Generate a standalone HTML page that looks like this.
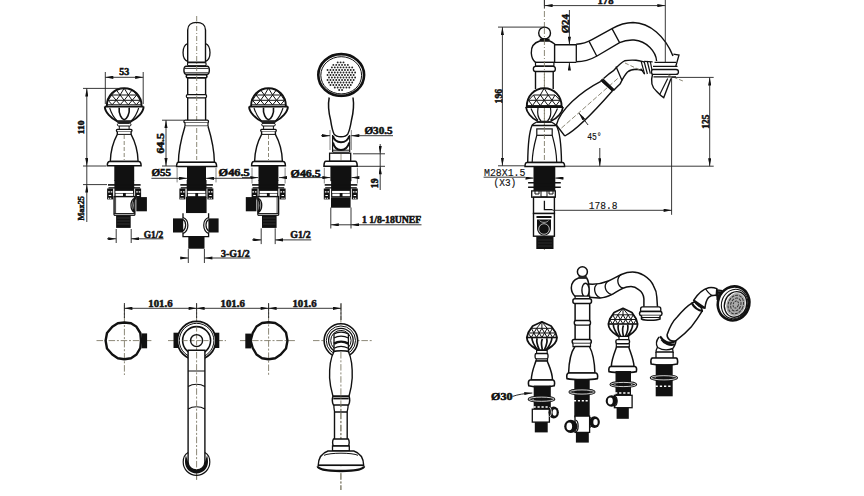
<!DOCTYPE html>
<html><head><meta charset="utf-8">
<style>
html,body{margin:0;padding:0;background:#fff;width:864px;height:496px;overflow:hidden}
svg{display:block}
text{font-family:"Liberation Serif",serif;font-weight:bold;fill:#111;stroke:#111;stroke-width:0.5}
.t2{font-family:"Liberation Mono",monospace;font-weight:normal;stroke:#111;stroke-width:0.15}
</style></head><body>
<svg width="864" height="496" viewBox="0 0 864 496">
<defs>
  <pattern id="dots" x="0.3" y="0.5" width="2.7" height="2.7" patternUnits="userSpaceOnUse"><circle cx="1.35" cy="1.35" r="0.75" fill="#444"/></pattern>
  <marker id="ar" viewBox="0 0 10 4" refX="10" refY="2" markerWidth="8.5" markerHeight="3.2" markerUnits="userSpaceOnUse" orient="auto-start-reverse"><path d="M0,0 L10,2 L0,4 z" fill="#111"/></marker>
  <!-- front view valve (outlet on right), x relative to center -->
  <g id="knob3">
    <path d="M0,0 L9.2,4.2 L13.5,10.5 L15.1,15.7 C15,19 13,23 6.5,26.8 L3.8,28.3 H-3.8 L-6.5,26.8 C-13,23 -15,19 -15.1,15.7 L-13.5,10.5 L-9.2,4.2 Z" fill="#fff" stroke="#111" stroke-width="1.8" stroke-linejoin="round"/>
    <path d="M-10.5,6.5 H10.5 M-13.8,11.2 H13.8 M0,0 L-5.3,6.5 M0,0 L5.3,6.5 M0,0 V6.5 M-10.5,6.5 L-13.8,11.2 M-10.5,6.5 L-8,11.2 M-5.3,6.5 L-8,11.2 M-5.3,6.5 L-2.7,11.2 M0,6.5 L-2.7,11.2 M0,6.5 L2.7,11.2 M5.3,6.5 L2.7,11.2 M5.3,6.5 L8,11.2 M10.5,6.5 L8,11.2 M10.5,6.5 L13.8,11.2 M-13.8,11.2 L-10.7,15.7 M-8,11.2 L-10.7,15.7 M-8,11.2 L-5.4,15.7 M-2.7,11.2 L-5.4,15.7 M-2.7,11.2 L0,15.7 M2.7,11.2 L0,15.7 M2.7,11.2 L5.4,15.7 M8,11.2 L5.4,15.7 M8,11.2 L10.7,15.7 M13.8,11.2 L10.7,15.7" fill="none" stroke="#111" stroke-width="1"/>
    <path d="M-15,15.7 H15" stroke="#111" stroke-width="1.6"/>
    <path d="M-10,16 C-10,20 -7.5,24 -4.5,28 M-4.8,16.5 C-6,21 -4,25 -2.5,28 M0.5,17 C-1.5,21 0,25 0.5,28 M4.8,16.5 C6,21 4,25 2.5,28 M10,16 C10,20 7.5,24 4.5,28" fill="none" stroke="#111" stroke-width="1.7"/>
  </g>
  <g id="nutF">
    <rect x="-9.8" y="180" width="19.8" height="17.5" fill="#111"/>
    <rect x="-16.2" y="184.1" width="32.6" height="1.6" fill="#111"/>
    <rect x="-15.7" y="187.2" width="31.6" height="1.3" fill="#111"/>
    <rect x="-8.8" y="190.9" width="17.6" height="2.1" fill="#fff"/>
    <rect x="-8.6" y="193.6" width="7.4" height="2.6" fill="#fff"/>
    <rect x="1.6" y="193.6" width="7.4" height="2.6" fill="#fff"/>
    <rect x="-17.1" y="188.5" width="6" height="10.9" fill="#111"/>
    <rect x="10.9" y="188.5" width="6" height="10.9" fill="#111"/>
    <path d="M-16,191.9 h1.6 M-13.5,191.9 h1.6 M-15.5,195.5 h2.5 M-16.2,198.2 h1.3 M-14.2,198.2 h1.3 M12,191.9 h1.6 M14.5,191.9 h1.6 M12.7,195.5 h2.5 M12.1,198.2 h1.3 M14.1,198.2 h1.3" stroke="#fff" stroke-width="1.1"/>
  </g>
  <g id="valveF">
    <!-- dome -->
    <path d="M-17.4,106 C-17.4,95.5 -9.6,88.2 0,88.2 C9.6,88.2 17.4,95.5 17.4,106" fill="#fff" stroke="#111" stroke-width="1.9"/>
    <path d="M-12.5,95 H12.5 M-16,100.3 H16 M-17.3,104.8 H17.3 M0,88.2 L-4.1,95 M0,88.2 L4.1,95 M-12.5,95 L-16,100.3 M-12.5,95 L-8,100.3 M-4.1,95 L-8,100.3 M-4.1,95 L0,100.3 M4.1,95 L0,100.3 M4.1,95 L8,100.3 M12.5,95 L8,100.3 M12.5,95 L16,100.3 M-16,100.3 L-12.1,104.8 M-8,100.3 L-12.1,104.8 M-8,100.3 L-4.1,104.8 M0,100.3 L-4.1,104.8 M0,100.3 L4.1,104.8 M8,100.3 L4.1,104.8 M8,100.3 L12.1,104.8 M16,100.3 L12.1,104.8 M-8,89.8 L-12.5,95 M8,89.8 L12.5,95 M-8,89.8 L-4.1,95 M8,89.8 L4.1,95" fill="none" stroke="#111" stroke-width="1"/>
    <!-- rim & cup -->
    <path d="M-19.4,106.6 H19.4" stroke="#111" stroke-width="1.6"/>
    <path d="M-19.4,106.4 C-19.4,112 -13,118.5 -7.2,121.2 H7.2 C13,118.5 19.4,112 19.4,106.4" fill="none" stroke="#111" stroke-width="1.9"/>
    <path d="M-14.5,108 C-13,113 -10,118 -7,121 M14.5,108 C13,113 10,118 7,121" fill="none" stroke="#111" stroke-width="1.1"/>
    <path d="M-5,107.6 C-5.8,114 -2.5,119.3 0,119.8 C2.5,119.3 5.8,114 5,107.6" fill="none" stroke="#111" stroke-width="1.6"/>
    <rect x="-6.9" y="121" width="13.8" height="2" fill="#222"/>
    <rect x="-6.8" y="123.4" width="13.6" height="2.6" rx="1.3" fill="#fff" stroke="#111" stroke-width="1"/>
    <path d="M-4.9,126 V129.4 M4.9,126 V129.4" stroke="#111" stroke-width="1"/>
    <rect x="-7.8" y="129.4" width="15.6" height="2.2" rx="1" fill="#fff" stroke="#111" stroke-width="1.3"/>
    <!-- bell -->
    <path d="M-6.9,131.6 V134.4 C-10.5,141 -13.6,150 -13.9,161.4 H13.9 C13.6,150 10.5,141 6.9,134.4 V131.6" fill="#fff" stroke="#111" stroke-width="1.4"/>
    <path d="M-6.9,134.4 H6.9" stroke="#111" stroke-width="1"/>
    <path d="M0,135 V160" stroke="#7f7a68" stroke-width="0.9" stroke-dasharray="4,2"/>
    <path d="M-14.5,161.5 H14.5 C16,161.5 16.9,163 16.9,165.8 H-16.9 C-16.9,163 -16,161.5 -14.5,161.5 Z" fill="#fff" stroke="#111" stroke-width="1.5"/>
    <!-- thread -->
    <rect x="-9.9" y="165.8" width="19.9" height="15" fill="#111"/>
    <use href="#nutF"/>
    <!-- body -->
    <rect x="-10.1" y="196.6" width="20.7" height="17.2" fill="#fff" stroke="#111" stroke-width="1.4"/>
    <path d="M-8.6,197 V213.5" stroke="#111" stroke-width="0.8"/>
    <path d="M10.6,198 C5.5,200.5 5.5,210 10.6,212.8 M10.6,199 C8,201.5 8,209.5 10.6,212" fill="none" stroke="#111" stroke-width="1.3"/>
    <rect x="12.1" y="197.1" width="10.6" height="14.2" fill="#111"/>
    <path d="M-10.1,213.8 h20.7 v1.6 h-20.7 z" fill="#fff" stroke="#111" stroke-width="1"/>
    <rect x="-8.1" y="215.4" width="14.6" height="12.5" fill="#111"/>
    <path d="M-7,218 H5.5 M-7,221 H5.5 M-7,224 H5.5" stroke="#555" stroke-width="0.5"/>
  </g>
</defs>

<use href="#valveF" transform="translate(124.2,0)"/>
<use href="#valveF" transform="translate(268.5,0) scale(-1,1)"/>


<!-- ===== center front spout ===== -->
<g id="spoutF">
  <path d="M187.7,43.5 C181.5,46 181.5,59 187.7,61.4 M205.5,43.5 C211.5,46 211.5,59 205.5,61.4" fill="none" stroke="#111" stroke-width="1.3"/>
  <path d="M187.7,62.2 V30 C187.7,25 191.5,22.4 196.6,22.4 C201.7,22.4 205.5,25 205.5,30 V62.2 Z" fill="#fff" stroke="#111" stroke-width="1.4"/>
  <rect x="187.5" y="62.6" width="18.6" height="3.1" rx="1.2" fill="#fff" stroke="#111" stroke-width="1.1"/>
  <path d="M186,66.2 H207.4 C210,67 210,73.6 207.4,74.4 H186 C183.2,73.6 183.2,67 186,66.2 Z" fill="#fff" stroke="#111" stroke-width="1.4"/>
  <path d="M185,68.4 H208.5 M185,72.8 H208.5" stroke="#111" stroke-width="0.9"/>
  <rect x="186.3" y="74.8" width="20.6" height="3.1" rx="1.3" fill="#fff" stroke="#111" stroke-width="1.6"/>
  <path d="M187.7,78 V120.2 M205.6,78 V120.2" stroke="#111" stroke-width="1.4"/>
  <rect x="186.3" y="94.6" width="20.3" height="3.2" rx="1.5" fill="#fff" stroke="#111" stroke-width="1.2"/>
  <path d="M196.7,16 V166" stroke="#7f7a68" stroke-width="0.9" stroke-dasharray="5,2,1,2"/>
  <rect x="183.9" y="120.2" width="24.6" height="2.4" rx="1.2" fill="#fff" stroke="#111" stroke-width="1.3"/>
  <path d="M185,122.6 V126.2 H208 V122.6" fill="#fff" stroke="#111" stroke-width="1.2"/>
  <path d="M185,126.2 C182,136 178.5,150 178.4,162.5 H214.4 C214.3,150 211,136 208,126.2" fill="#fff" stroke="#111" stroke-width="1.4"/>
  <path d="M196.7,128 V160" stroke="#7f7a68" stroke-width="0.9" stroke-dasharray="5,2"/>
  <path d="M178.5,162.2 H214.5 C216,162.2 216.6,164 216.6,166.6 H176.6 C176.6,164 177.3,162.2 178.5,162.2 Z" fill="#fff" stroke="#111" stroke-width="1.5"/>
  <rect x="187" y="166.5" width="19" height="15" fill="#111"/>
  <use href="#nutF" transform="translate(196.5,0)"/>
  <rect x="186" y="196.8" width="20.6" height="16.5" fill="#111"/>
  <rect x="183" y="213.2" width="25.6" height="23.4" fill="#fff"/><path d="M183,213.2 V218.4 M183,232.5 V236.6 H208.6 V232.5 M208.6,218.4 V213.2" fill="none" stroke="#111" stroke-width="1.3"/>
  <path d="M183,217.5 C189.5,220 189.5,230 183,233.5 M183,219.5 C186.5,221.5 186.5,228.5 183,231 M208.6,217.5 C202.1,220 202.1,230 208.6,233.5 M208.6,219.5 C205.1,221.5 205.1,228.5 208.6,231" fill="none" stroke="#111" stroke-width="1.2"/>
  <rect x="173" y="218.4" width="10.2" height="14.1" fill="#111"/>
  <rect x="208.4" y="218.4" width="10.2" height="14.1" fill="#111"/>
  <rect x="188.3" y="236.5" width="16.2" height="12.2" fill="#111"/>
</g>

<!-- ===== handshower front ===== -->
<g id="hsF">
  <ellipse cx="341.2" cy="75" rx="22.9" ry="20.9" fill="#fff" stroke="#111" stroke-width="2.6"/>
  <ellipse cx="341.2" cy="75.3" rx="20.4" ry="18.6" fill="none" stroke="#111" stroke-width="1"/>
  <path d="M337.70,62.40h0.01M340.60,62.40h0.01M343.50,62.40h0.01M333.35,64.91h0.01M336.25,64.91h0.01M339.15,64.91h0.01M342.05,64.91h0.01M344.95,64.91h0.01M347.85,64.91h0.01M331.90,67.42h0.01M334.80,67.42h0.01M337.70,67.42h0.01M340.60,67.42h0.01M343.50,67.42h0.01M346.40,67.42h0.01M349.30,67.42h0.01M352.20,67.42h0.01M327.55,69.93h0.01M330.45,69.93h0.01M333.35,69.93h0.01M336.25,69.93h0.01M339.15,69.93h0.01M342.05,69.93h0.01M344.95,69.93h0.01M347.85,69.93h0.01M350.75,69.93h0.01M353.65,69.93h0.01M329.00,72.45h0.01M331.90,72.45h0.01M334.80,72.45h0.01M337.70,72.45h0.01M340.60,72.45h0.01M343.50,72.45h0.01M346.40,72.45h0.01M349.30,72.45h0.01M352.20,72.45h0.01M355.10,72.45h0.01M327.55,74.96h0.01M330.45,74.96h0.01M333.35,74.96h0.01M336.25,74.96h0.01M339.15,74.96h0.01M342.05,74.96h0.01M344.95,74.96h0.01M347.85,74.96h0.01M350.75,74.96h0.01M353.65,74.96h0.01M329.00,77.47h0.01M331.90,77.47h0.01M334.80,77.47h0.01M337.70,77.47h0.01M340.60,77.47h0.01M343.50,77.47h0.01M346.40,77.47h0.01M349.30,77.47h0.01M352.20,77.47h0.01M355.10,77.47h0.01M327.55,79.98h0.01M330.45,79.98h0.01M333.35,79.98h0.01M336.25,79.98h0.01M339.15,79.98h0.01M342.05,79.98h0.01M344.95,79.98h0.01M347.85,79.98h0.01M350.75,79.98h0.01M353.65,79.98h0.01M329.00,82.49h0.01M331.90,82.49h0.01M334.80,82.49h0.01M337.70,82.49h0.01M340.60,82.49h0.01M343.50,82.49h0.01M346.40,82.49h0.01M349.30,82.49h0.01M352.20,82.49h0.01M330.45,85.00h0.01M333.35,85.00h0.01M336.25,85.00h0.01M339.15,85.00h0.01M342.05,85.00h0.01M344.95,85.00h0.01M347.85,85.00h0.01M350.75,85.00h0.01M334.80,87.51h0.01M337.70,87.51h0.01M340.60,87.51h0.01M343.50,87.51h0.01M346.40,87.51h0.01M349.30,87.51h0.01M339.15,90.03h0.01M342.05,90.03h0.01" stroke="#222" stroke-width="1.9" stroke-linecap="round"/>
  <path d="M329.2,97.5 C328,104 328.5,112 330.6,120 C331.5,126 332.5,131 334.1,134.1 C335.5,136 338,136.8 341,136.8 C344,136.8 346.5,136 347.7,134.1 C349.5,131 350.5,126 351.5,120 C353.5,112 354,104 353,97.5" fill="#fff" stroke="#111" stroke-width="1.5"/>
  <path d="M332.6,135 V152 M349.7,135 V152" stroke="#111" stroke-width="1.2"/>
  <path d="M333,136 C334,140 337,142.2 341,142.2 C345,142.2 348,140 349.3,136" fill="none" stroke="#111" stroke-width="2"/>
  <path d="M333,142.5 C334,147 337,150 341,150 C345,150 348,147 349.3,142.5" fill="none" stroke="#111" stroke-width="2"/>
  <path d="M332.6,150.2 H349.7 M332.6,152.2 H349.7" stroke="#111" stroke-width="1"/>
  <rect x="329.6" y="153.2" width="21.1" height="8.1" fill="#fff" stroke="#111" stroke-width="1.3"/>
  <path d="M341,154 V160.5" stroke="#7f7a68" stroke-width="0.8"/>
  <path d="M326,161.3 H355 C356.5,161.3 357.2,163 357.2,166.2 H324 C324,163 324.6,161.3 326,161.3 Z" fill="#fff" stroke="#111" stroke-width="1.6"/>
  <rect x="330.4" y="166.2" width="21" height="15" fill="#111"/>
  <use href="#nutF" transform="translate(340.9,0)"/>
  <rect x="331" y="197.4" width="19.6" height="10.3" fill="#111"/>
</g>

<!-- ===== front view dims ===== -->
<g stroke="#222" stroke-width="0.9" fill="none">
  <!-- 53 -->
  <path d="M105.3,72 V104 M143.2,72 V104"/>
  <path d="M105.3,77.3 H143.2" marker-start="url(#ar)" marker-end="url(#ar)"/>
  <!-- 110 -->
  <path d="M83,88.4 H123 M83,166 H106"/>
  <path d="M86.8,88.4 V166" marker-start="url(#ar)" marker-end="url(#ar)"/>
  <!-- Max25 -->
  <path d="M83,184.6 H107"/>
  <path d="M86.8,222 V184.6" marker-end="url(#ar)"/>
  <path d="M86.8,166 V184.6"/>
  <!-- G1/2 left -->
  <path d="M116.2,229 V243 M131.2,229 V243"/>
  <path d="M107,238.8 H116.2" marker-end="url(#ar)"/>
  <path d="M163.5,238.8 H131.2" marker-end="url(#ar)"/>
  <!-- 64.5 -->
  <path d="M162,120.2 H184 M162,166 H177"/>
  <path d="M166,120.2 V166" marker-start="url(#ar)" marker-end="url(#ar)"/>
  <!-- O55 / O46.5 -->
  <path d="M177.1,167.7 V182.4 M216,167.7 V182.4" stroke="#777"/>
  <path d="M151.4,178.3 H187" marker-end="url(#ar)"/>
  <path d="M250,178.3 H206" marker-end="url(#ar)"/>
  <!-- 3-G1/2 -->
  <path d="M188.3,249 V263 M204.4,249 V263"/>
  <path d="M180,258 H188.3" marker-end="url(#ar)"/>
  <path d="M250.6,258 H204.4" marker-end="url(#ar)"/>
  <!-- right valve O46.5 -->
  <path d="M252,167.7 V183.5 M285.1,167.7 V183.5 M324.3,167.7 V183.5 M357.4,167.7 V183.5" stroke="#777"/>
  <path d="M242,177.6 H258.3" marker-end="url(#ar)"/>
  <path d="M286,177.6 H279" marker-end="url(#ar)"/>
  <path d="M291.9,177.6 H330.4" marker-end="url(#ar)"/>
  <path d="M358,177.6 H351.4" marker-end="url(#ar)"/>
  <!-- G1/2 right -->
  <path d="M261.2,228.3 V244.1 M275.2,228.3 V244.1"/>
  <path d="M252,239.9 H261.2" marker-end="url(#ar)"/>
  <path d="M311.3,239.9 H275.2" marker-end="url(#ar)"/>
  <!-- O30.5 -->
  <path d="M330,130 V150 M351.3,130 V150" stroke="#777"/>
  <path d="M321,135.7 H330" marker-end="url(#ar)"/>
  <path d="M393,135.7 H351.3" marker-end="url(#ar)"/>
  <!-- 19 -->
  <path d="M353,153.8 H385 M358,166.3 H385"/>
  <path d="M380.2,144 V153.8" marker-end="url(#ar)"/>
  <path d="M380.2,190 V166.3" marker-end="url(#ar)"/>
  <path d="M380.2,153.8 V166.3"/>
  <!-- 1 1/8-18UNEF -->
  <path d="M330.8,207.5 V228.5 M351,207.5 V228.5"/>
  <path d="M421.5,224.8 H351" marker-start="none" marker-end="url(#ar)"/>
  <path d="M330.8,224.8 H351" marker-start="url(#ar)"/>
</g>
<g>
  <text x="119.3" y="75.4" font-size="9.5" textLength="10" lengthAdjust="spacingAndGlyphs">53</text>
  <text transform="translate(84.2,134.2) rotate(-90)" font-size="9" textLength="13.7" lengthAdjust="spacingAndGlyphs">110</text>
  <text transform="translate(84.2,220.5) rotate(-90)" font-size="8.5" textLength="24.5" lengthAdjust="spacingAndGlyphs">Max25</text>
  <text x="143.8" y="238.2" font-size="9.5" textLength="19.3" lengthAdjust="spacingAndGlyphs">G1/2</text>
  <text transform="translate(164.3,153.6) rotate(-90)" font-size="9.5" textLength="20.5" lengthAdjust="spacingAndGlyphs">64.5</text>
  <text x="151.4" y="176.4" font-size="10" textLength="19.8" lengthAdjust="spacingAndGlyphs">&#216;55</text>
  <text x="218.6" y="176.4" font-size="10" textLength="31.2" lengthAdjust="spacingAndGlyphs">&#216;46.5</text>
  <text x="290.6" y="176.6" font-size="10" textLength="30.2" lengthAdjust="spacingAndGlyphs">&#216;46.5</text>
  <text x="221.1" y="256.9" font-size="9.5" textLength="28.6" lengthAdjust="spacingAndGlyphs">3-G1/2</text>
  <text x="290.3" y="238.4" font-size="9.5" textLength="20.3" lengthAdjust="spacingAndGlyphs">G1/2</text>
  <text x="364.4" y="133.8" font-size="10" textLength="28.3" lengthAdjust="spacingAndGlyphs">&#216;30.5</text>
  <text transform="translate(377.8,188.2) rotate(-90)" font-size="9.5" textLength="9.8" lengthAdjust="spacingAndGlyphs">19</text>
  <text x="362" y="223.3" font-size="9.5" textLength="59.3" lengthAdjust="spacingAndGlyphs">1 1/8-18UNEF</text>
</g>

<!-- ===== side view ===== -->
<g id="sideV">
  <!-- centerline -->
  <path d="M544.4,0 V250" stroke="#7f7a68" stroke-width="0.9" stroke-dasharray="6,2,1,2"/>
  <!-- handshower hose/handle behind -->
  <path d="M617.7,78.5 L558.5,130.7" stroke="#7f7a68" stroke-width="0.9" stroke-dasharray="5,2"/>
  <path d="M556.4,125 C560,110 580,92 600.8,81.3 M603.6,78.5 C607,75.5 610,73 613.5,70.7 C617,67 620,63 624.6,60.8 C628,60 632,60 636,60.2 C639,60.5 642,61.4 644.4,62" fill="none" stroke="#111" stroke-width="1.4"/>
  <path d="M564.8,136 C580,128 600,105 612.1,91.2 M613.5,90.5 C615.5,88.5 617.5,86.5 620,84.1 C622,80 624.5,75 627.5,72 C630,70 633,69.3 636,69.3 C639,69.5 641,70 643,70.7" fill="none" stroke="#111" stroke-width="1.4"/>
  <path d="M556.4,125 L564.8,136 M600.8,80.3 L612.8,91.2 M602.6,78.6 L614.3,89.9 M616,66.5 L622,80.5" stroke="#111" stroke-width="1.3"/>
  <path d="M601.2,79.6 L613.6,90.6" stroke="#111" stroke-width="2.6"/>
  <path d="M588.1,125 L578.9,113" stroke="#111" stroke-width="0.9" marker-end="url(#ar)"/>
  <!-- spout -->
  <path d="M576.2,44.2 C583,43.8 587,42.5 592,39.6 L612,28.6 C620,24 626,22.5 633,22.5 C650,23 665,36 673,56" fill="none" stroke="#111" stroke-width="1.4"/>
  <path d="M576.2,61.8 C585,61.8 590,60 597,56 L619.6,42.6 C625,40 630,39.8 634,40 C647,41 656,52 656.6,61" fill="none" stroke="#111" stroke-width="1.4"/>
  <path d="M589.1,41.4 L596.7,56 M612,28.6 L619.6,42.6 M576.3,44.4 V61.7" stroke="#111" stroke-width="1.3"/>
  <!-- handshower head / outlet -->
  <path d="M641.1,61.2 L644.6,74.2 M644,61 L647.4,74 M647.2,61 L650.3,73.6 M650.3,61.5 L652.6,73.2" stroke="#111" stroke-width="1.2"/>
  <path d="M644.4,61.4 L652.6,61.8 M640.7,68.6 L644.6,74.2" stroke="#111" stroke-width="1.2"/>
  <path d="M654.5,62.3 H676 M653,66.3 H677.5 M653.5,76.8 H676" stroke="#111" stroke-width="1.3"/>
  <path d="M653,69.5 H676 C679.3,69.5 679.3,74.4 676,74.4 H653 C651,74.4 651,69.5 653,69.5 Z" fill="#fff" stroke="#111" stroke-width="1.3"/>
  <path d="M652.6,74 C650.8,80 651.5,87 656.5,91.3 C659,94 661,96 663.7,97.7 L671,78.4" fill="none" stroke="#111" stroke-width="1.4"/>
  <path d="M659.7,94.5 L667.7,78.4" stroke="#111" stroke-width="1.2"/>
  <path d="M673.4,54.2 L679,55 L675.8,66.3" fill="none" stroke="#111" stroke-width="1.3"/>
  <path d="M625,63 L640,70 M668,75 L683,81" stroke="#7f7a68" stroke-width="0.9" stroke-dasharray="4,2"/>
  <!-- arm -->
  <path d="M554.6,44.7 H576.3 M554.6,62.4 H576.3" stroke="#111" stroke-width="1.4"/>
  <!-- finial & body -->
  <circle cx="544.6" cy="33" r="5.9" fill="#fff" stroke="#111" stroke-width="1.4"/>
  <rect x="539.8" y="38.6" width="9.8" height="2.3" fill="#111"/>
  <path d="M539.8,41 C533,43 531,48 531.3,53 C531.5,57 533,60.5 535.5,62.4 H554.6 V44 C552.5,42.3 551,41.3 549.6,41 Z" fill="#fff" stroke="#111" stroke-width="1.4"/>
  <rect x="535.5" y="62.4" width="18.4" height="3.6" fill="#fff" stroke="#111" stroke-width="1.2"/>
  <rect x="533.4" y="66.4" width="21.9" height="5.1" rx="2.2" fill="#fff" stroke="#111" stroke-width="1.4"/>
  <path d="M535.5,71.5 V89 M553.2,71.5 V89" stroke="#111" stroke-width="1.4"/>
  <path d="M544.4,28 V250" stroke="#7f7a68" stroke-width="0.9" stroke-dasharray="6,2,1,2"/>
  <!-- knob -->
  <path d="M526.8,106.5 C526.8,96 534.5,88.2 544.2,88.2 C554,88.2 561.6,96 561.6,106.5" fill="#fff" stroke="#111" stroke-width="1.9"/>
  <path d="M533.5,95 H555 M528.5,100.3 H560 M526.7,105.6 H561.8 M544.2,88.2 L540.3,95 M544.2,88.2 L548.2,95 M533.5,95 L528.5,100.3 M533.5,95 L536.3,100.3 M540.3,95 L536.3,100.3 M540.3,95 L544.2,100.3 M548.2,95 L544.2,100.3 M548.2,95 L552,100.3 M555,95 L552,100.3 M555,95 L560,100.3 M528.5,100.3 L532.4,105.6 M536.3,100.3 L532.4,105.6 M536.3,100.3 L540.3,105.6 M544.2,100.3 L540.3,105.6 M544.2,100.3 L548.2,105.6 M552,100.3 L548.2,105.6 M552,100.3 L556,105.6 M560,100.3 L556,105.6" fill="none" stroke="#111" stroke-width="1"/>
  <path d="M525.9,107 H563" stroke="#111" stroke-width="2"/>
  <path d="M526,107 C526.5,112 531,118 537.5,121 M563,107 C562.5,112 558,118 551,121" fill="none" stroke="#111" stroke-width="1.8"/>
  <path d="M531,108.5 C533,113 535,117 538,120.5 M557.5,108.5 C555.5,113 553.5,117 550.5,120.5 M538,108 C537,114 539,119 541,121 M550.5,108 C551.5,114 549.5,119 547.5,121" fill="none" stroke="#111" stroke-width="1.2"/>
  <path d="M532.2,125 C536,121 540,121 544.2,121.5 C548,121 552,121 555.8,125" fill="none" stroke="#111" stroke-width="1.4"/>
  <rect x="537" y="121" width="14.5" height="2" fill="#222"/>
  <!-- body -->
  <path d="M532,125.5 C530,130 528,140 527.7,162.5 H561.5 C561.2,140 559,130 556.3,125.5 Z" fill="#fff" stroke="#111" stroke-width="1.4"/>
  <rect x="536.8" y="128.9" width="15.4" height="6.4" fill="#fff" stroke="#111" stroke-width="1.2"/>
  <path d="M536.8,135.3 C535,142 532.5,150 532.2,162 M552.2,135.3 C554,142 556.5,150 556.7,162" fill="none" stroke="#111" stroke-width="1.2"/>
  <path d="M544.4,127 V162" stroke="#7f7a68" stroke-width="0.9" stroke-dasharray="5,2"/>
  <path d="M527,162.4 H562.4 C563.8,162.4 564.6,164 564.6,166.4 H525 C525,164 525.6,162.4 527,162.4 Z" fill="#fff" stroke="#111" stroke-width="1.5"/>
  <rect x="533.5" y="166.4" width="21.8" height="24.5" fill="#111"/>
  <path d="M528.1,182.7 H560.8 M528.1,187.2 H560.8" stroke="#111" stroke-width="1.4"/>
  <path d="M526.3,178.1 H533.5" stroke="#111" stroke-width="0.9" marker-end="url(#ar)"/>
  <path d="M563.5,178.1 H555.3" stroke="#111" stroke-width="0.9" marker-end="url(#ar)"/>
  <rect x="531.7" y="190.9" width="23.6" height="6.3" fill="#fff" stroke="#111" stroke-width="1.3"/>
  <path d="M535,191 v3 h4 v-3 M541,191 v6 h6 v-6 M549,191 v3 h4 v-3" fill="none" stroke="#111" stroke-width="1"/>
  <rect x="533.5" y="197.2" width="20.9" height="16.3" fill="#fff" stroke="#111" stroke-width="1.4"/>
  <path d="M544.4,200.8 V209.6 H552.6" fill="none" stroke="#111" stroke-width="1.3"/>
  <rect x="533.5" y="213.5" width="20.9" height="22.7" fill="#fff" stroke="#111" stroke-width="1.4"/>
  <path d="M536.5,216 H551.5 V218 H536.5 Z" fill="#111"/><path d="M537,219.5 H551 V228 C551,232.5 548,235.5 544,235.5 C540,235.5 537,232.5 537,228 Z" fill="#111"/>
  <circle cx="544" cy="229" r="5.3" fill="none" stroke="#fff" stroke-width="0.7"/><path d="M539.5,220.5 C541,223 547,223 548.5,220.5" fill="none" stroke="#fff" stroke-width="0.6"/>
  <rect x="536.3" y="236.2" width="17.2" height="12.8" fill="#111"/>
  <path d="M538,240 H552 M538,243 H552 M538,246 H552" stroke="#444" stroke-width="0.5"/>
</g>
<!-- side view dims -->
<g stroke="#222" stroke-width="0.9" fill="none">
  <path d="M665.3,0 V62.4 M544.4,0 V8"/>
  <path d="M544.6,5.6 H665.3" marker-start="url(#ar)" marker-end="url(#ar)"/>
  <path d="M498,27.1 H544 M498,165.8 H525"/>
  <path d="M502.4,27.1 V165.8" marker-start="url(#ar)" marker-end="url(#ar)"/>
  <path d="M569.4,10 V44.7" marker-end="url(#ar)"/>
  <path d="M569.4,70 V62.4" marker-end="url(#ar)"/>
  <path d="M671.6,77.5 V214.8 M671.6,77.4 H713.7 M565,166.2 H713.7"/>
  <path d="M709.7,166.2 V77.5" marker-start="url(#ar)" marker-end="url(#ar)"/>
  
  <path d="M599.8,148 V166.2" marker-end="url(#ar)"/>
  <path d="M552.6,210.3 H671.6" marker-end="url(#ar)"/>
  <path d="M483.6,177.2 H525.4"/>
</g>
<g>
  <text x="597.5" y="3.6" font-size="10" textLength="16" lengthAdjust="spacingAndGlyphs">178</text>
  <text transform="translate(501.5,103.4) rotate(-90)" font-size="10" textLength="14.5" lengthAdjust="spacingAndGlyphs">196</text>
  <text transform="translate(569,33.3) rotate(-90)" font-size="11" textLength="19.2" lengthAdjust="spacingAndGlyphs">&#216;24</text>
  <text transform="translate(709,128.8) rotate(-90)" font-size="10.5" textLength="14.2" lengthAdjust="spacingAndGlyphs">125</text>
  <text x="587.2" y="140.4" font-size="11.5" class="t2" textLength="14.5" lengthAdjust="spacingAndGlyphs">45&#176;</text>
  <text x="588.7" y="209" font-size="11.5" class="t2" textLength="28.7" lengthAdjust="spacingAndGlyphs">178.8</text>
  <text x="484" y="176.3" font-size="11" class="t2" textLength="41.4" lengthAdjust="spacingAndGlyphs">M28X1.5</text>
  <text x="493.6" y="186" font-size="10" class="t2" textLength="22.7" lengthAdjust="spacingAndGlyphs">(X3)</text>
</g>

<!-- ===== top views ===== -->
<g id="topV">
  <!-- centerlines -->
  <g stroke="#7f7a68" stroke-width="0.9" stroke-dasharray="6.5,1.8,2,1.8" fill="none">
    <path d="M96.5,340.6 H152.4 M124.4,304.6 V375"/>
    <path d="M168,340.6 H226 M196.6,304 V480"/>
    <path d="M240,340.6 H296 M268.6,304 V375"/>
    <path d="M313,340.6 H372 M340.9,304 V490"/>
  </g>
  <!-- left knob -->
  <path d="M124.4,322.5 L131,323.3 L136.5,326.8 L140.3,333 L141,340.6 L140.3,348 L136.5,354.5 L131,358.2 L124.4,359.2 L117.8,358.2 L112.3,354.5 L107,348.5 L105.6,340.6 L107,333 L112.3,326.8 L117.8,323.3 Z" fill="none" stroke="#111" stroke-width="2.4" stroke-linejoin="round"/>
  <rect x="141.5" y="333.4" width="5.6" height="14.9" fill="#111"/>
  <!-- right knob -->
  <path d="M268.6,322.2 L275.2,323 L280.7,326.5 L286,332.5 L287.5,340.6 L286,348.5 L280.7,354.5 L275.2,358.2 L268.6,359.3 L262,358.2 L256.5,354.5 L252.7,348 L250.6,340.6 L252.7,333 L256.5,326.5 L262,323 Z" fill="none" stroke="#111" stroke-width="2.4" stroke-linejoin="round"/>
  <rect x="245.3" y="333.6" width="5.8" height="14.8" fill="#111"/>
  <!-- center spout -->
  <rect x="173.5" y="332.7" width="5" height="15.3" fill="#111"/>
  <rect x="214.5" y="332.7" width="4.8" height="15.3" fill="#111"/>
  <circle cx="196.6" cy="340.6" r="19.2" fill="#fff" stroke="#111" stroke-width="1.8"/>
  <circle cx="196.6" cy="340.6" r="17.3" fill="none" stroke="#111" stroke-width="1"/>
  <circle cx="196.6" cy="340.6" r="14" fill="none" stroke="#111" stroke-width="1.6"/>
  <path d="M182.6,340.6 H210.6 M196.6,326.6 V354.6" stroke="#7f7a68" stroke-width="0.9" stroke-dasharray="5,2"/>
  <circle cx="196.6" cy="340.6" r="6" fill="none" stroke="#111" stroke-width="1.4"/>
  <path d="M188.1,350.3 H204.9 V462 C204.9,466.5 201,470 196.5,470 C192,470 188.1,466.5 188.1,462 Z" fill="#fff" stroke="#111" stroke-width="1.4"/>
  <path d="M188.1,371 H204.9 M188.1,386.5 C193,383.5 200,383.5 204.9,386.5 M188.1,409 C193,406 200,406 204.9,409" fill="none" stroke="#111" stroke-width="1.2"/>
  <path d="M196.6,352 V480" stroke="#7f7a68" stroke-width="0.9" stroke-dasharray="6.5,1.8,2,1.8"/>
  <path d="M188.1,452.5 C184.5,454.5 183.2,458 183.2,462 C183.2,469.5 189.3,475.4 196.5,475.4 C203.7,475.4 209.8,469.5 209.8,462 C209.8,458 208.5,454.5 204.9,452.5" fill="none" stroke="#111" stroke-width="1.2"/>
  <path d="M186,455.5 C185.2,457.5 185,460 185,462 C185,468.5 190.2,473.5 196.5,473.5 C202.8,473.5 208,468.5 208,462 C208,460 207.8,457.5 207,455.5 L204.9,462 C204.9,466.5 201,470 196.5,470 C192,470 188.1,466.5 188.1,462 Z" fill="#111"/>
  <!-- handshower top -->
  <circle cx="340.9" cy="340.6" r="16.8" fill="#fff" stroke="#111" stroke-width="1.6"/>
  <circle cx="340.9" cy="340.6" r="14.6" fill="none" stroke="#111" stroke-width="1"/>
  <circle cx="340.9" cy="340.6" r="12.3" fill="none" stroke="#111" stroke-width="1.3"/>
  <circle cx="340.9" cy="340.6" r="10.2" fill="none" stroke="#111" stroke-width="1"/>
  <path d="M334,334 C338,331.5 344,331.5 348.4,334 V351.5 H334 Z" fill="#fff" stroke="#111" stroke-width="1.3"/>
  <path d="M334,338 C338,335.5 344,335.5 348.4,338 M334,348.2 C338,346 344,346 348.4,348.2" fill="none" stroke="#111" stroke-width="1.2"/>
  <path d="M334,343.6 C338,341.2 344,341.2 348.4,343.6" fill="none" stroke="#111" stroke-width="2.4"/>
  <path d="M334,351.5 C336.5,350.5 345.5,350.5 348.4,351.5 C351.5,358 352.5,368 352.2,378 C351.8,386 350.5,391 349,396.3 H333 C331.5,391 330,386 329.6,378 C329.3,368 330.5,358 334,351.5 Z" fill="#fff" stroke="#111" stroke-width="1.4"/>
  <path d="M333,396.3 H349 C350,398 350,403 348.5,405 H333.5 C332,403 332,398 333,396.3 Z" fill="#fff" stroke="#111" stroke-width="1.5"/>
  <path d="M333.3,398.5 H348.7" stroke="#111" stroke-width="1.8"/>
  <path d="M334,405 C333.5,408 334.5,410 334.5,412 M348,405 C348.5,408 347.2,410 347.2,412" fill="none" stroke="#111" stroke-width="1.3"/>
  <path d="M334.5,412 V439 M347.2,412 V439 M334.5,412 H347.2" stroke="#111" stroke-width="1.4"/>
  <path d="M340.9,352 V490" stroke="#7f7a68" stroke-width="0.9" stroke-dasharray="6.5,1.8,2,1.8"/>
  <path d="M333.5,439 H348.3 C349.5,440.5 349.5,444.5 348.3,446 H333.5 C332.3,444.5 332.3,440.5 333.5,439 Z" fill="#fff" stroke="#111" stroke-width="1.4"/>
  <path d="M332.5,446 H349.3 V451 H332.5 Z" fill="#fff" stroke="#111" stroke-width="1.3"/>
  <path d="M328,451 H353.8 C360,453 363.5,458 363.7,465.5 H318.2 C318.4,458 322,453 328,451 Z" fill="#fff" stroke="#111" stroke-width="1.4"/>
  <path d="M324,455.3 C330,452.5 352,452.5 358,455.3" fill="none" stroke="#111" stroke-width="1"/>
  <path d="M318.2,465 H363.7" stroke="#111" stroke-width="1"/>
  <path d="M317.8,466.2 C318,469.5 328,471 340.9,471 C353.8,471 363.8,469.5 364,466.2" fill="#fff" stroke="#111" stroke-width="2.4"/>
</g>
<g stroke="#222" stroke-width="0.9" fill="none">
  <path d="M124.4,303 V318 M196.6,303 V318 M268.6,303 V318 M341,303 V320"/>
  <path d="M124.4,308.3 H196.6" marker-start="url(#ar)" marker-end="url(#ar)"/>
  <path d="M196.6,308.3 H268.6" marker-start="url(#ar)" marker-end="url(#ar)"/>
  <path d="M268.6,308.3 H341" marker-start="url(#ar)" marker-end="url(#ar)"/>
</g>
<g>
  <text x="148.3" y="307" font-size="10" textLength="24.3" lengthAdjust="spacingAndGlyphs">101.6</text>
  <text x="220.5" y="307" font-size="10" textLength="24.3" lengthAdjust="spacingAndGlyphs">101.6</text>
  <text x="292.4" y="307" font-size="10" textLength="24.3" lengthAdjust="spacingAndGlyphs">101.6</text>
</g>

<!-- ===== 3D view ===== -->
<g id="v3d">
  <!-- spout column -->
  <path d="M575.1,303.3 V341 M589.7,303.3 V341" stroke="#111" stroke-width="1.5"/>
  <rect x="574.3" y="320.5" width="16.2" height="4.6" rx="2" fill="#fff" stroke="#111" stroke-width="1.4"/>
  <rect x="572.2" y="339.6" width="19.1" height="4" rx="1.8" fill="#fff" stroke="#111" stroke-width="1.5"/><path d="M573,343.6 V346.6 H590.5 V343.6" fill="#fff" stroke="#111" stroke-width="1.2"/>
  <path d="M575,346.5 C571,352 569,360 568.6,373 H594.9 C594.5,360 592.5,352 589.4,346.5 Z" fill="#fff" stroke="#111" stroke-width="1.5"/>
  <path d="M568.5,373 H596 C597.5,373.5 598,375.5 597.4,378.6 C591,380 573,380 567,378.6 C566.4,375.5 567,373.5 568.5,373 Z" fill="#fff" stroke="#111" stroke-width="1.6"/>
  <rect x="574.3" y="379.3" width="15.4" height="38.1" fill="#111"/>
  <ellipse cx="582" cy="392" rx="12.3" ry="2.1" fill="none" stroke="#111" stroke-width="2.6"/><ellipse cx="582" cy="392" rx="12.3" ry="2.1" fill="none" stroke="#fff" stroke-width="0.8"/>
  <path d="M574.0,400.8 h2.1 M577.9,400.8 h2.1 M581.8,400.8 h2.1 M585.6,400.8 h2.1 " stroke="#fff" stroke-width="1.6"/>
  <rect x="575" y="416.1" width="14.6" height="16.3" fill="#fff" stroke="#111" stroke-width="1.3"/>
  <ellipse cx="594.5" cy="422.1" rx="5.4" ry="5.8" fill="#111"/><ellipse cx="595.5" cy="422.1" rx="2.2" ry="3.2" fill="#fff"/>
  <path d="M589.6,416.8 C592.5,418 592.5,426 589.6,428" fill="none" stroke="#111" stroke-width="1"/>
  <ellipse cx="570.8" cy="426.4" rx="6.6" ry="6.6" fill="#111"/>
  <ellipse cx="569.3" cy="426.4" rx="2.8" ry="3.8" fill="#fff"/>
  <path d="M575.5,420 C579,421 579,431 575.5,432" fill="none" stroke="#111" stroke-width="1.2"/>
  <rect x="575.9" y="432.4" width="12.9" height="10.2" fill="#111"/>
  <!-- spout arm -->
  <path d="M584.2,283.4 C590,284.5 600,284.5 608.4,281 C613,279 617,276.5 621.3,274.5 C625,273 629,272.1 632.6,272.1 C637,272.1 640,273.3 643.9,275.3 C649,278.5 652,282 653.5,285.8 C656,290 656.8,294 656.8,297.1 L657.6,308.4 H643.9 V298.7 C643.5,294 641.5,291.5 639,289.8 C636,287.5 633.5,286.6 631,286.6 C628,286.6 625.5,287 622.9,288.2 C619,290 615,292.8 611.6,294.7 C607,297 603,297.9 600.3,297.9 C595,298 590,297.6 585.8,297.1 Z" fill="#fff" stroke="#111" stroke-width="1.5"/>
  <path d="M597.1,284.2 C593,287 594,295 600.3,297.9 M608.4,281 C603.5,284 604,292 611.6,294.7 M621.3,274.5 C616,278 617,286 622.9,288.2" fill="none" stroke="#111" stroke-width="1.3"/>
  <path d="M642.5,306.8 H659 C660.5,306.8 660.8,308 660.8,309 V311.5 H640.6 V309 C640.6,308 641,306.8 642.5,306.8 Z" fill="#fff" stroke="#111" stroke-width="1.3"/>
  <path d="M641,311.5 H660.5 C662.5,311.8 662.5,315.3 660.5,315.6 H641 C639,315.3 639,311.8 641,311.5 Z" fill="#fff" stroke="#111" stroke-width="1.5"/>
  <path d="M641.5,315.6 V319 C645,320.8 656,320.8 660,319 V315.6" fill="#fff" stroke="#111" stroke-width="1.5"/>
  <path d="M641.5,317.5 H660" stroke="#111" stroke-width="1"/>
  <!-- spout body -->
  <path d="M578.6,278 C573,280 571.2,284 571.3,288 C571.5,291.5 573,294.5 575.1,296.3 H589 V289 C589,284 588,280 586.7,278 Z" fill="#fff" stroke="#111" stroke-width="1.5"/>
  <ellipse cx="585.5" cy="290.2" rx="3.6" ry="7" fill="#fff" stroke="#111" stroke-width="1.4"/>
  <circle cx="582.4" cy="271.8" r="5" fill="#fff" stroke="#111" stroke-width="1.5"/>
  <rect x="578.6" y="275.8" width="8.1" height="2.6" fill="#222"/>
  <rect x="575.1" y="296.1" width="14.6" height="2.8" fill="#fff" stroke="#111" stroke-width="1.2"/>
  <rect x="572.9" y="298.8" width="18.6" height="4.7" rx="2" fill="#fff" stroke="#111" stroke-width="1.5"/>

  <!-- left 3D valve (cx 541.9) -->
  <use href="#knob3" transform="translate(541.9,321.8)"/>
  <path d="M536.6,350.5 H547.2 V353.5 H536.6 Z" fill="#fff" stroke="#111" stroke-width="1.2"/>
  <rect x="535.1" y="353.5" width="12.9" height="5.3" rx="1.5" fill="#fff" stroke="#111" stroke-width="1.3"/>
  <path d="M536.2,358.8 V361 H547.5 V358.8" fill="none" stroke="#111" stroke-width="1.2"/>
  <path d="M535.9,361 C534,367 531.5,372 531.3,380 H552.5 C552.3,372 549.5,367 547.2,361 Z" fill="#fff" stroke="#111" stroke-width="1.5"/>
  <path d="M530,380 H553 C554.5,380.5 555,382.5 554.2,385.8 C548,387.5 535,387.5 528.8,385.8 C528,382.5 528.5,380.5 530,380 Z" fill="#fff" stroke="#111" stroke-width="1.6"/>
  <rect x="533.7" y="385.5" width="17.1" height="23.5" fill="#111"/>
  <ellipse cx="541.5" cy="399.2" rx="12.6" ry="2.1" fill="none" stroke="#111" stroke-width="2.6"/><ellipse cx="541.5" cy="399.2" rx="12.6" ry="2.1" fill="none" stroke="#fff" stroke-width="0.8"/>
  <path d="M533.5,407 h2.2 M537.5,407 h2.2 M541.5,407 h2.2 M545.5,407 h2.2 " stroke="#fff" stroke-width="1.6"/>
  <rect x="532.3" y="409.2" width="17.1" height="12.9" fill="#fff" stroke="#111" stroke-width="1.3"/>
  <ellipse cx="553.7" cy="412.5" rx="5.2" ry="6" fill="#111"/><ellipse cx="554.6" cy="412.5" rx="2" ry="3.2" fill="#fff"/>
  <path d="M549.4,407 C552,409 552,415 549.4,417" fill="none" stroke="#fff" stroke-width="0.8"/>
  <rect x="534.8" y="422.1" width="12.9" height="10.3" fill="#111"/>

  <!-- middle 3D valve (cx 622.4) -->
  <use href="#knob3" transform="translate(623,308.3) scale(0.97,1)"/>
  <path d="M619,336.5 H628.7 V339.6 H619 Z" fill="#fff" stroke="#111" stroke-width="1.2"/>
  <rect x="615.9" y="339.6" width="13.6" height="4.2" rx="1.5" fill="#fff" stroke="#111" stroke-width="1.4"/>
  <path d="M616.3,343.8 V347 H629.3 V343.8" fill="none" stroke="#111" stroke-width="1.2"/>
  <path d="M616.6,347 C614,354 611.5,360 611.3,366.5 H634 C633.8,360 631,354 628.7,347 Z" fill="#fff" stroke="#111" stroke-width="1.5"/>
  <path d="M610.5,366.5 H635 C636.5,367 637,368.5 636.3,371.6 C630,373 616,373 609,371.6 C608.5,368.5 609,367 610.5,366.5 Z" fill="#fff" stroke="#111" stroke-width="1.6"/>
  <rect x="615.5" y="371" width="15.5" height="24.5" fill="#111"/>
  <ellipse cx="623.3" cy="384.5" rx="12.6" ry="2.1" fill="none" stroke="#111" stroke-width="2.6"/><ellipse cx="623.3" cy="384.5" rx="12.6" ry="2.1" fill="none" stroke="#fff" stroke-width="0.8"/>
  <path d="M615.0,393 h2.3 M619.1,393 h2.3 M623.2,393 h2.3 M627.4,393 h2.3 " stroke="#fff" stroke-width="1.6"/>
  <rect x="614.4" y="395.3" width="17.7" height="12.4" fill="#fff" stroke="#111" stroke-width="1.3"/>
  <ellipse cx="611.5" cy="401" rx="5.8" ry="5.8" fill="#111"/>
  <ellipse cx="610.3" cy="401" rx="2.5" ry="3.4" fill="#fff"/>
  <path d="M614.6,396 C618,397 618,405 614.6,406.5" fill="none" stroke="#111" stroke-width="1.1"/>
  <rect x="616.6" y="407.7" width="12.2" height="11.1" fill="#111"/>

  <!-- 3D handshower -->
  <path d="M657.7,346.8 C656.5,349 656,351 656,352 H673.1 C673,351 672.8,349.5 672.3,348.5 Z" fill="#fff" stroke="#111" stroke-width="1.3"/>
  <path d="M659,337 C656,341 656,345 657.7,347.5 C662,350 668,350.5 672.8,348.5 C675,345 676.5,343 675.7,340.8" fill="#fff" stroke="#111" stroke-width="1.4"/>
  <path d="M660,336.3 C663,341 669,345 675.7,341 M661.5,339.5 C664,343.5 670,346 674.8,344.2" fill="none" stroke="#111" stroke-width="2.2"/>
  <path d="M667.1,334.8 C670,326 674,320 677.4,316.8 C683,310 687,306 692,303.1 C696,300.5 700,303 702.3,310.8 C698,318 695,322 691.1,327.1 C686,333 681,337 675.7,340.8 C671,342 667,339 667.1,334.8 Z" fill="#fff" stroke="#111" stroke-width="1.5"/>
  <path d="M691.5,302.5 C694,307.5 698,310.5 703,311 M693.8,300.2 C696.5,304.5 700.5,307.5 705,307.8" fill="none" stroke="#111" stroke-width="2.2"/>
  <path d="M693.8,300.2 C697,295 702,289.5 708.6,287.7 C712,287 714,287.5 716.8,288.6 L716.3,295.4 C713,295.2 710,296 708.5,297.5 C706.5,300 705.5,303 705,307.8 Z" fill="#fff" stroke="#111" stroke-width="1.5"/>
  <path d="M705.5,288.8 C708,292.5 710,295.5 713,295.5" fill="none" stroke="#111" stroke-width="1.1"/>
  <path d="M716,289 L722.5,290 L723.5,301.5 L716.5,300 Z" fill="#111"/>
  <path d="M718,291 L722,292 M718.2,294 L722.5,295 M718.3,297 L723,298" stroke="#666" stroke-width="0.6"/>
  <ellipse cx="733.6" cy="303.4" rx="15.6" ry="17.2" transform="rotate(20 733.6 303.4)" fill="#fff" stroke="#111" stroke-width="2.6"/>
  <ellipse cx="734.6" cy="304" rx="13" ry="15" transform="rotate(20 734.6 304)" fill="none" stroke="#111" stroke-width="1.1"/>
  <ellipse cx="735.6" cy="304.4" rx="11" ry="13" transform="rotate(20 735.6 304.4)" fill="none" stroke="#111" stroke-width="1.4"/>
  <ellipse cx="735.8" cy="304.5" rx="9.3" ry="11.6" transform="rotate(20 735.8 304.5)" fill="#aaa"/>
  <ellipse cx="735.8" cy="304.5" rx="7.5" ry="9.5" transform="rotate(20 735.8 304.5)" fill="none" stroke="#333" stroke-width="1" stroke-dasharray="3,1"/>
  <ellipse cx="735.8" cy="304.5" rx="5" ry="6.6" transform="rotate(20 735.8 304.5)" fill="none" stroke="#333" stroke-width="1" stroke-dasharray="3,1"/>
  <ellipse cx="735.8" cy="304.5" rx="2.6" ry="3.6" transform="rotate(20 735.8 304.5)" fill="none" stroke="#333" stroke-width="1" stroke-dasharray="2,1"/>
  <path d="M650.9,358.3 H677.5 M656,352 V358.3 M673.1,352 V358.3" stroke="#111" stroke-width="1.3"/>
  <path d="M652.5,358 H676 C677.5,358.5 678,360.5 677.3,364 C670,365.5 659,365.5 651.2,364 C650.5,360.5 651,358.5 652.5,358 Z" fill="#fff" stroke="#111" stroke-width="1.6"/>
  <rect x="655.7" y="364.2" width="17" height="32.1" fill="#111"/>
  <ellipse cx="663.9" cy="377.8" rx="12.8" ry="2.1" fill="none" stroke="#111" stroke-width="2.6"/><ellipse cx="663.9" cy="377.8" rx="12.8" ry="2.1" fill="none" stroke="#fff" stroke-width="0.8"/>
  <path d="M655.5,386.3 h2.3 M659.8,386.3 h2.3 M664.0,386.3 h2.3 M668.2,386.3 h2.3 " stroke="#fff" stroke-width="1.6"/>
  <!-- O30 label -->
  <path d="M512.6,396.4 C518,394.5 524,393.5 532.3,393" stroke="#111" stroke-width="0.9" fill="none" marker-end="url(#ar)"/>
</g>
<text x="491" y="400.4" font-size="9.5" textLength="21.5" lengthAdjust="spacingAndGlyphs">&#216;30</text>
</svg>
</body></html>
